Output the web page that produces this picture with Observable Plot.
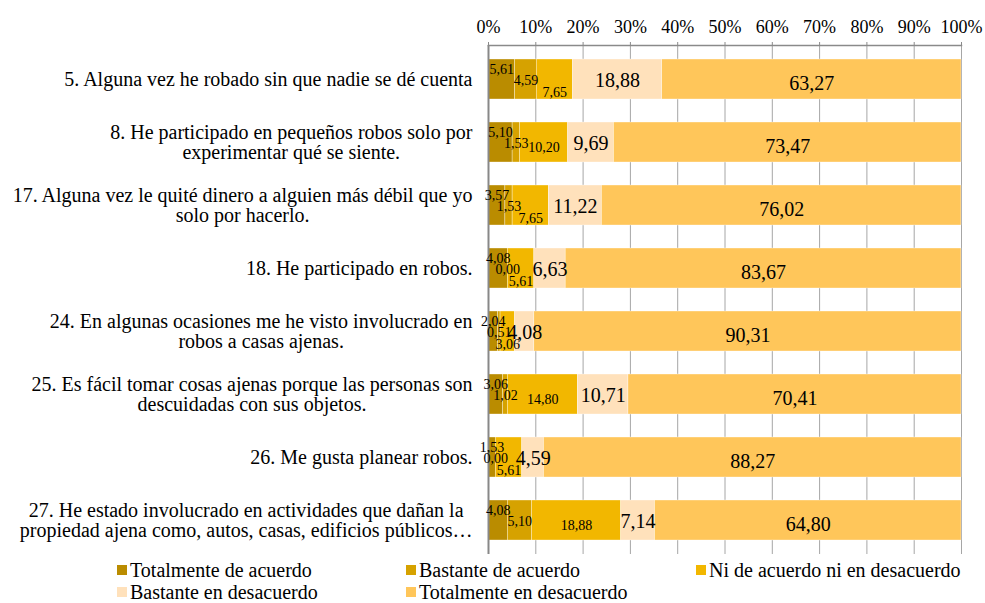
<!DOCTYPE html>
<html>
<head>
<meta charset="utf-8">
<script src="https://cdn.jsdelivr.net/npm/d3@7"></script>
<script src="https://cdn.jsdelivr.net/npm/@observablehq/plot@0.6"></script>
<style>
  html, body { margin: 0; padding: 0; background: #fff; }
  body { width: 985px; height: 603px; overflow: hidden; font-family: 'Liberation Serif', 'DejaVu Serif', serif; }
  #chart { position: relative; width: 985px; height: 558px; }
  #chart svg, #chart svg text { font-family: 'Liberation Serif', 'DejaVu Serif', serif !important; }
  #legend { position: relative; width: 985px; height: 45px; font-size: 20px; color: #000; }
  .item { position: absolute; display: flex; align-items: center; white-space: nowrap; line-height: 20px; height: 20px; }
  .sw { width: 10px; height: 10px; margin-right: 3px; }
</style>
</head>
<body>
<div id="chart"></div>
<div id="legend"></div>
<script>
const items = [
  "5. Alguna vez he robado sin que nadie se dé cuenta",
  "8. He participado en pequeños robos solo por\nexperimentar qué se siente.",
  "17. Alguna vez le quité dinero a alguien más débil que yo\nsolo por hacerlo.",
  "18. He participado en robos.",
  "24. En algunas ocasiones me he visto involucrado en\nrobos a casas ajenas.",
  "25. Es fácil tomar cosas ajenas porque las personas son\ndescuidadas con sus objetos.",
  "26. Me gusta planear robos.",
  "27. He estado involucrado en actividades que dañan la\npropiedad ajena como, autos, casas, edificios públicos…"
];
const series = [
  "Totalmente de acuerdo",
  "Bastante de acuerdo",
  "Ni de acuerdo ni en desacuerdo",
  "Bastante en desacuerdo",
  "Totalmente en desacuerdo"
];
const colors = ["#BA8C00", "#D6A200", "#F2B700", "#FFE1BB", "#FFC65A"];
const totalmenteDeAcuerdo    = [5.61, 5.10, 3.57, 4.08, 2.04, 3.06, 1.53, 4.08];
const bastanteDeAcuerdo      = [4.59, 1.53, 1.53, 0.00, 0.51, 1.02, 0.00, 5.10];
const niDeAcuerdoNiEnDesac   = [7.65, 10.20, 7.65, 5.61, 3.06, 14.80, 5.61, 18.88];
const bastanteEnDesacuerdo   = [18.88, 9.69, 11.22, 6.63, 4.08, 10.71, 4.59, 7.14];
const totalmenteEnDesacuerdo = [63.27, 73.47, 76.02, 83.67, 90.31, 70.41, 88.27, 64.80];
const xTicks = [0, 10, 20, 30, 40, 50, 60, 70, 80, 90, 100];

const seriesValues = [totalmenteDeAcuerdo, bastanteDeAcuerdo, niDeAcuerdoNiEnDesac, bastanteEnDesacuerdo, totalmenteEnDesacuerdo];
const data = [];
items.forEach((item, i) => seriesValues.forEach((vals, j) => data.push({item, series: series[j], si: j, value: vals[i]})));

const fmt = v => v.toFixed(2).replace(".", ",");
const font = "'Liberation Serif', 'DejaVu Serif', serif";

function labels(pred, dy, fontSize) {
  return Plot.text(data, Plot.stackX({
    x: "value", y: "item", z: "series",
    text: d => pred(d) ? fmt(d.value) : null,
    dy, fontSize, fill: "#000", fontFamily: font
  }));
}

const plot = Plot.plot({
  width: 985,
  height: 558,
  marginTop: 45,
  marginBottom: 4,
  marginLeft: 488,
  marginRight: 24,
  style: {fontFamily: font, color: "#000", background: "#fff"},
  x: {domain: [0, 100]},
  y: {domain: items, paddingInner: 0.36, paddingOuter: 0.18},
  color: {domain: series, range: colors},
  marks: [
    Plot.ruleX(xTicks, {stroke: "#a6a6a6", strokeWidth: 1}),
    Plot.barX(data, Plot.stackX({x: "value", y: "item", z: "series", fill: "series", stroke: "#fff", strokeWidth: 0.5, strokeOpacity: 0.7})),
    Plot.ruleX([0], {stroke: "#888", strokeWidth: 2}),
    Plot.frame({anchor: "top", stroke: "#8a8a8a", strokeWidth: 1.5}),
    Plot.axisX({anchor: "top", ticks: xTicks, tickFormat: d => d + "%", tickSize: 4, tickPadding: 9, fontSize: 18, stroke: "#8a8a8a", fill: "#000", label: null}),
    Plot.axisY({tickSize: 0, tickPadding: 16, fontSize: 20, lineHeight: 1.03, fill: "#000", label: null}),
    labels(d => d.si === 0, -10, 14),
    labels(d => d.si === 1, 1, 14),
    labels(d => d.si === 2 && d.value < 10, 13, 14),
    labels(d => d.si === 2 && d.value >= 10, 5, 14),
    labels(d => d.si === 3, 1, 20),
    labels(d => d.si === 4, 4, 20)
  ]
});
document.getElementById("chart").appendChild(plot);

// center multi-line category labels like the original
plot.querySelectorAll('g[aria-label="y-axis tick label"] text').forEach(t => {
  const w = t.getBBox().width;
  t.setAttribute("text-anchor", "middle");
  t.style.textAnchor = "middle";
  t.setAttribute("transform", (t.getAttribute("transform") || "") + ` translate(${-w / 2},0)`);
});

// legend
const legend = document.getElementById("legend");
const pos = [[117, 2], [406, 2], [696, 2], [117, 24], [406, 24]];
series.forEach((s, i) => {
  const div = document.createElement("div");
  div.className = "item";
  div.style.left = pos[i][0] + "px";
  div.style.top = pos[i][1] + "px";
  const sw = document.createElement("span");
  sw.className = "sw";
  sw.style.background = colors[i];
  const tx = document.createElement("span");
  tx.textContent = s;
  div.appendChild(sw);
  div.appendChild(tx);
  legend.appendChild(div);
});
</script>
</body>
</html>
